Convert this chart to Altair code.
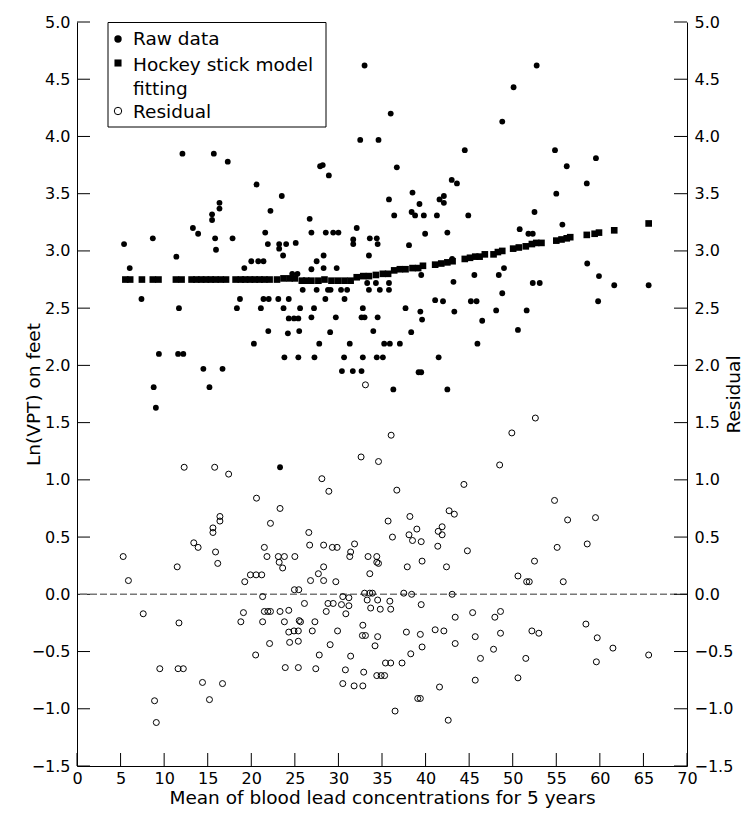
import altair as alt
import pandas as pd

# ---------------- data ----------------
raw_x = [5.4, 6.05, 7.4, 8.7, 11.4, 11.7, 12.1, 13.3, 13.9, 15.5,
         15.5, 15.7, 15.85, 15.95, 16.35, 16.35, 17.3, 17.85, 18.35, 18.7,
         19.2, 20.0, 20.6, 20.8, 21.4, 21.1, 21.4, 22.0, 21.6, 21.9,
         22.2, 23.1, 23.2, 23.2, 23.5, 23.65, 23.7, 24.0, 24.3, 24.3,
         24.9, 25.4, 24.7, 25.3, 25.1, 25.6, 21.95, 44.5, 27.9, 28.2,
         28.9, 36.7, 43.0, 43.6, 38.5, 35.8, 42.1, 41.6, 42.1, 39.3,
         26.7, 36.4, 38.4, 38.8, 39.8, 41.3, 44.9, 50.8, 32.1, 26.9,
         28.55, 29.4, 30.0, 39.95, 42.5, 31.7, 31.7, 33.6, 34.4, 34.5,
         38.1, 28.3, 33.5, 27.5, 26.9, 28.3, 29.8, 43.05, 49.0, 45.6,
         48.4, 39.5, 25.9, 27.5, 28.8, 29.1, 30.3, 31.0, 33.3, 34.3,
         35.8, 33.5, 34.75, 35.8, 43.2, 28.5, 30.7, 41.1, 42.0, 45.2,
         45.85, 48.8, 27.2, 32.8, 37.7, 39.4, 39.6, 43.3, 48.1, 46.5,
         26.9, 29.7, 32.65, 33.0, 34.5, 50.6, 24.2, 25.5, 29.05, 34.0,
         38.35, 27.8, 31.3, 35.25, 35.9, 37.05, 45.95, 23.8, 25.4, 27.25,
         30.65, 32.8, 34.4, 35.1, 41.5, 30.4, 31.65, 32.65, 39.2, 39.5,
         36.3, 42.5, 23.3, 9.4, 8.8, 9.05, 11.6, 12.2, 14.5, 15.2,
         16.7, 20.3, 54.85, 59.55, 56.2, 58.5, 55.0, 52.5, 55.7, 51.8,
         52.3, 58.55, 59.9, 52.3, 53.1, 61.65, 65.6, 51.6, 59.8, 52.75,
         50.1, 48.8, 36.0, 34.6, 33.0, 32.5]
raw_y = [3.06, 2.85, 2.58, 3.11, 2.95, 2.50, 3.85, 3.20, 3.15, 3.32,
         3.27, 3.85, 3.11, 3.01, 3.42, 3.37, 3.78, 3.11, 2.50, 2.58,
         2.85, 2.91, 3.58, 2.91, 2.91, 2.50, 2.58, 2.58, 3.16, 3.06,
         3.35, 2.58, 3.06, 3.02, 3.48, 2.96, 2.50, 3.06, 2.58, 2.41,
         2.41, 2.41, 2.80, 2.80, 3.07, 2.50, 2.30, 3.88, 3.74, 3.75,
         3.66, 3.73, 3.62, 3.59, 3.51, 3.45, 3.48, 3.45, 3.42, 3.41,
         3.28, 3.31, 3.34, 3.31, 3.31, 3.31, 3.31, 3.19, 3.20, 3.16,
         3.16, 3.16, 3.16, 3.15, 3.16, 3.10, 3.06, 3.11, 3.11, 3.06,
         3.05, 2.96, 2.96, 2.91, 2.84, 2.85, 2.85, 2.93, 2.85, 2.79,
         2.79, 2.79, 2.66, 2.66, 2.66, 2.66, 2.66, 2.66, 2.72, 2.72,
         2.72, 2.66, 2.66, 2.66, 2.73, 2.58, 2.58, 2.57, 2.56, 2.56,
         2.56, 2.63, 2.50, 2.50, 2.50, 2.47, 2.40, 2.47, 2.48, 2.39,
         2.42, 2.42, 2.42, 2.42, 2.42, 2.31, 2.28, 2.30, 2.29, 2.30,
         2.29, 2.19, 2.19, 2.19, 2.19, 2.19, 2.19, 2.07, 2.07, 2.07,
         2.07, 2.07, 2.07, 2.07, 2.07, 1.95, 1.95, 1.95, 1.94, 1.94,
         1.79, 1.79, 1.11, 2.10, 1.81, 1.63, 2.10, 2.10, 1.97, 1.81,
         1.97, 2.19, 3.88, 3.81, 3.74, 3.59, 3.50, 3.34, 3.23, 3.15,
         3.15, 2.89, 2.78, 2.72, 2.72, 2.70, 2.70, 2.48, 2.56, 4.62,
         4.43, 4.13, 4.20, 3.97, 4.62, 3.97]

fit_x = [5.55, 6.1, 7.45, 8.7, 9.35, 11.35, 12.0, 13.15, 13.7, 14.25,
         14.8, 15.35, 15.9, 16.5, 17.1, 18.2, 18.8, 19.3, 19.85, 20.4,
         20.95, 21.5, 22.1, 22.95, 23.7, 24.4, 25.0, 25.8, 26.3, 26.9,
         27.7, 28.4, 29.2, 29.95, 30.7, 31.4, 32.1, 32.85, 33.5, 34.3,
         35.1, 35.7, 36.4, 37.05, 37.7, 38.5, 39.15, 39.7, 41.1, 41.8,
         42.5, 43.1, 44.5, 45.1, 45.7, 46.2, 46.8, 47.8, 48.3, 48.8,
         50.05, 50.7, 51.5, 52.2, 52.7, 53.3, 55.0, 55.6, 56.2, 56.6,
         58.5, 59.4, 59.9, 61.65, 65.6]
fit_y = [2.75, 2.75, 2.75, 2.75, 2.75, 2.75, 2.75, 2.75, 2.75, 2.75,
         2.75, 2.75, 2.75, 2.75, 2.75, 2.75, 2.75, 2.75, 2.75, 2.75,
         2.75, 2.75, 2.75, 2.75, 2.76, 2.76, 2.76, 2.74, 2.74, 2.74,
         2.74, 2.75, 2.74, 2.74, 2.74, 2.74, 2.77, 2.78, 2.78, 2.79,
         2.80, 2.80, 2.83, 2.84, 2.84, 2.85, 2.85, 2.87, 2.88, 2.89,
         2.90, 2.91, 2.93, 2.94, 2.95, 2.95, 2.97, 2.97, 2.99, 3.00,
         3.02, 3.03, 3.04, 3.06, 3.07, 3.07, 3.09, 3.10, 3.11, 3.12,
         3.14, 3.15, 3.16, 3.18, 3.24]

res_x = [33.1, 36.05, 32.6, 34.6, 49.9, 48.5, 28.1, 28.9, 36.7, 44.4,
         52.6, 54.8, 12.3, 15.8, 17.4, 20.6, 5.3, 5.9, 7.6, 8.9,
         9.1, 9.5, 11.5, 11.7, 11.6, 12.2, 13.4, 13.9, 14.4, 15.2,
         15.6, 15.6, 15.9, 16.15, 16.4, 16.4, 16.7, 18.8, 19.1, 19.25,
         19.9, 20.55, 21.2, 20.5, 21.3, 21.5, 21.5, 21.9, 22.2, 21.3,
         21.8, 22.1, 22.2, 23.3, 23.1, 23.8, 23.2, 23.6, 23.3, 23.8,
         23.9, 24.3, 24.3, 24.9, 25.4, 24.4, 25.4, 24.95, 25.45, 25.0,
         25.5, 25.4, 35.7, 38.2, 42.7, 43.3, 26.6, 38.1, 38.5, 39.0,
         39.5, 41.45, 41.9, 41.9, 36.2, 41.4, 44.8, 26.7, 28.3, 29.3,
         29.85, 31.85, 31.4, 31.3, 33.4, 34.4, 34.4, 34.6, 39.6, 28.3,
         27.7, 33.6, 37.9, 42.4, 26.8, 28.3, 29.7, 33.0, 33.6, 33.9,
         37.5, 38.4, 43.05, 50.6, 30.5, 31.2, 26.1, 28.8, 29.4, 30.35,
         31.2, 33.3, 34.5, 35.9, 36.0, 39.5, 33.7, 34.8, 28.6, 30.85,
         25.65, 27.3, 43.4, 45.4, 47.95, 48.6, 32.8, 27.0, 29.9, 32.75,
         33.1, 34.5, 37.8, 39.4, 41.1, 42.1, 45.7, 48.6, 29.05, 34.2,
         39.6, 43.4, 47.8, 27.8, 31.4, 38.3, 46.3, 35.4, 36.0, 37.3,
         27.4, 30.8, 32.9, 34.4, 34.9, 35.3, 30.5, 31.8, 32.8, 45.7,
         50.6, 41.6, 39.1, 39.4, 36.5, 42.6, 56.3, 59.5, 55.1, 58.55,
         52.5, 51.6, 51.9, 55.8, 52.2, 53.0, 58.4, 59.7, 61.5, 65.6,
         51.5, 59.6]
res_y = [1.83, 1.39, 1.20, 1.16, 1.41, 1.13, 1.01, 0.90, 0.91, 0.96,
         1.54, 0.82, 1.11, 1.11, 1.05, 0.84, 0.33, 0.12, -0.17, -0.93,
         -1.12, -0.65, 0.24, -0.25, -0.65, -0.65, 0.45, 0.41, -0.77, -0.92,
         0.58, 0.54, 0.37, 0.27, 0.68, 0.64, -0.78, -0.24, -0.16, 0.11,
         0.17, 0.17, 0.17, -0.53, -0.02, 0.41, -0.15, -0.15, -0.15, -0.24,
         0.33, -0.43, 0.62, 0.75, 0.33, 0.33, 0.28, 0.23, -0.15, -0.24,
         -0.64, -0.14, -0.33, -0.32, -0.32, -0.42, -0.41, 0.04, 0.04, 0.33,
         -0.23, -0.64, 0.64, 0.68, 0.73, 0.70, 0.54, 0.52, 0.47, 0.57,
         0.46, 0.55, 0.59, 0.52, 0.50, 0.42, 0.38, 0.43, 0.43, 0.41,
         0.41, 0.44, 0.37, 0.33, 0.33, 0.33, 0.28, 0.27, 0.29, 0.24,
         0.18, 0.18, 0.24, 0.24, 0.12, 0.12, 0.11, 0.01, 0.01, 0.01,
         0.01, 0.00, 0.00, 0.16, -0.02, -0.03, -0.08, -0.08, -0.08, -0.09,
         -0.10, -0.05, -0.05, -0.06, -0.13, -0.09, -0.12, -0.13, -0.15, -0.17,
         -0.24, -0.24, -0.20, -0.16, -0.20, -0.15, -0.27, -0.32, -0.32, -0.36,
         -0.36, -0.37, -0.33, -0.35, -0.31, -0.32, -0.37, -0.34, -0.44, -0.45,
         -0.46, -0.43, -0.48, -0.53, -0.54, -0.52, -0.56, -0.60, -0.60, -0.60,
         -0.65, -0.66, -0.68, -0.71, -0.71, -0.71, -0.78, -0.80, -0.80, -0.75,
         -0.73, -0.81, -0.91, -0.91, -1.02, -1.10, 0.65, 0.67, 0.41, 0.44,
         0.29, 0.11, 0.11, 0.11, -0.32, -0.34, -0.26, -0.38, -0.47, -0.53,
         -0.56, -0.59]

x_ticks = [0, 5, 10, 15, 20, 25, 30, 35, 40, 45, 50, 55, 60, 65, 70]
y_ticks = [-1.5, -1.0, -0.5, 0.0, 0.5, 1.0, 1.5, 2.0, 2.5, 3.0, 3.5, 4.0, 4.5, 5.0]
zero_level = [0.0]
legend_labels = ["Raw data", "Hockey stick model", "fitting", "Residual"]

x_title = "Mean of blood lead concentrations for 5 years"
y_title = "Ln(VPT) on feet"
y2_title = "Residual"

# ---------------- layout / style ----------------
FONT = "DejaVu Sans"
W, H = 610, 744
TICK = 13

raw_df = pd.DataFrame({"x": raw_x, "y": raw_y})
fit_df = pd.DataFrame({"x": fit_x, "y": fit_y})
res_df = pd.DataFrame({"x": res_x, "y": res_y})
xt_df = pd.DataFrame({"v": x_ticks})
yt_df = pd.DataFrame({"v": y_ticks})
zero_df = pd.DataFrame({"v": zero_level})

xscale = alt.Scale(domain=[0, 70], nice=False, zero=False)
yscale = alt.Scale(domain=[-1.5, 5.0], nice=False, zero=False)

xaxis = alt.Axis(values=x_ticks, ticks=False, grid=False, domainColor="black",
                 domainWidth=1, labelFont=FONT, labelFontSize=16, labelColor="black",
                 labelPadding=4, labelFlush=False, labelOverlap=False,
                 title=x_title, titleFont=FONT, titleFontSize=18.5,
                 titleFontWeight="normal", titleColor="black",
                 titleY=31, titleBaseline="middle")
left_axis = alt.Axis(values=y_ticks, format=".1f", ticks=False, grid=False,
                     domainColor="black", domainWidth=1, labelFont=FONT,
                     labelFontSize=16, labelColor="black", labelPadding=7,
                     labelFlush=False, labelOverlap=False,
                     title=y_title, titleFont=FONT, titleFontSize=18.5,
                     titleFontWeight="normal", titleColor="black",
                     titleAngle=270, titleX=-44, titleY=H / 2,
                     titleAlign="center", titleBaseline="middle")
right_axis = alt.Axis(values=y_ticks, format=".1f", ticks=False, grid=False,
                      orient="right", domainColor="black", domainWidth=1,
                      labelFont=FONT, labelFontSize=16, labelColor="black",
                      labelPadding=7, labelFlush=False, labelOverlap=False,
                      title=y2_title, titleFont=FONT, titleFontSize=18.5,
                      titleFontWeight="normal", titleColor="black",
                      titleAngle=270, titleX=46, titleY=H / 2,
                      titleAlign="center", titleBaseline="middle")

X = alt.X("x:Q", scale=xscale, axis=xaxis)
XV = alt.X("v:Q", scale=xscale, axis=xaxis)

raw = alt.Chart(raw_df).mark_circle(size=34, color="black", opacity=1).encode(
    x=X, y=alt.Y("y:Q", scale=yscale, axis=left_axis))
fit = alt.Chart(fit_df).mark_square(size=44, color="black", opacity=1).encode(
    x=X, y=alt.Y("y:Q", scale=yscale, axis=left_axis))
left_ticks = alt.Chart(yt_df).mark_rule(color="black", strokeWidth=1).encode(
    y=alt.Y("v:Q", scale=yscale, axis=left_axis),
    x=alt.value(0), x2=alt.value(TICK))
x_tick_marks = alt.Chart(xt_df).mark_rule(color="black", strokeWidth=1).encode(
    x=XV, y=alt.value(H), y2=alt.value(H - TICK))

# legend (drawn by hand as in the reference)
box = alt.Chart(pd.DataFrame({"k": [0]})).mark_rect(
    fill="white", stroke="black", strokeWidth=1).encode(
    x=alt.value(31), x2=alt.value(249), y=alt.value(0.5), y2=alt.value(105))
leg_raw = alt.Chart(pd.DataFrame({"k": [0]})).mark_circle(
    size=55, color="black", opacity=1).encode(x=alt.value(41), y=alt.value(17))
leg_fit = alt.Chart(pd.DataFrame({"k": [0]})).mark_square(
    size=50, color="black", opacity=1).encode(x=alt.value(41), y=alt.value(41))
leg_res = alt.Chart(pd.DataFrame({"k": [0]})).mark_point(
    shape="circle", filled=False, size=55, color="black", strokeWidth=1,
    opacity=1).encode(x=alt.value(41), y=alt.value(89))
leg_text_y = [17, 43, 67, 90]
leg_texts = [
    alt.Chart(pd.DataFrame({"t": [lab]})).mark_text(
        font=FONT, fontSize=18.5, align="left", baseline="middle",
        color="black").encode(text="t:N", x=alt.value(56), y=alt.value(ty))
    for lab, ty in zip(legend_labels, leg_text_y)
]

left_group = alt.layer(raw, fit, left_ticks, x_tick_marks, box,
                       leg_raw, leg_fit, leg_res, *leg_texts)

res = alt.Chart(res_df).mark_point(shape="circle", filled=False, size=36,
                                   color="black", strokeWidth=1, opacity=1).encode(
    x=X, y=alt.Y("y:Q", scale=yscale, axis=right_axis))
zero_line = alt.Chart(zero_df).mark_rule(color="#777777", strokeWidth=1.4,
                                         strokeDash=[7, 3]).encode(
    y=alt.Y("v:Q", scale=yscale, axis=right_axis))
right_ticks = alt.Chart(yt_df).mark_rule(color="black", strokeWidth=1).encode(
    y=alt.Y("v:Q", scale=yscale, axis=right_axis),
    x=alt.value(W - TICK), x2=alt.value(W))

right_group = alt.layer(zero_line, res, right_ticks)

chart = alt.layer(left_group, right_group).resolve_scale(
    y="independent"
).properties(
    width=W, height=H,
    autosize=alt.AutoSizeParams(type="none"),
    padding={"left": 69, "top": 14, "right": 55, "bottom": 42},
    background="white",
).configure_view(strokeWidth=0)

chart.save("out.html", embed_options={"renderer": "svg", "actions": False})
